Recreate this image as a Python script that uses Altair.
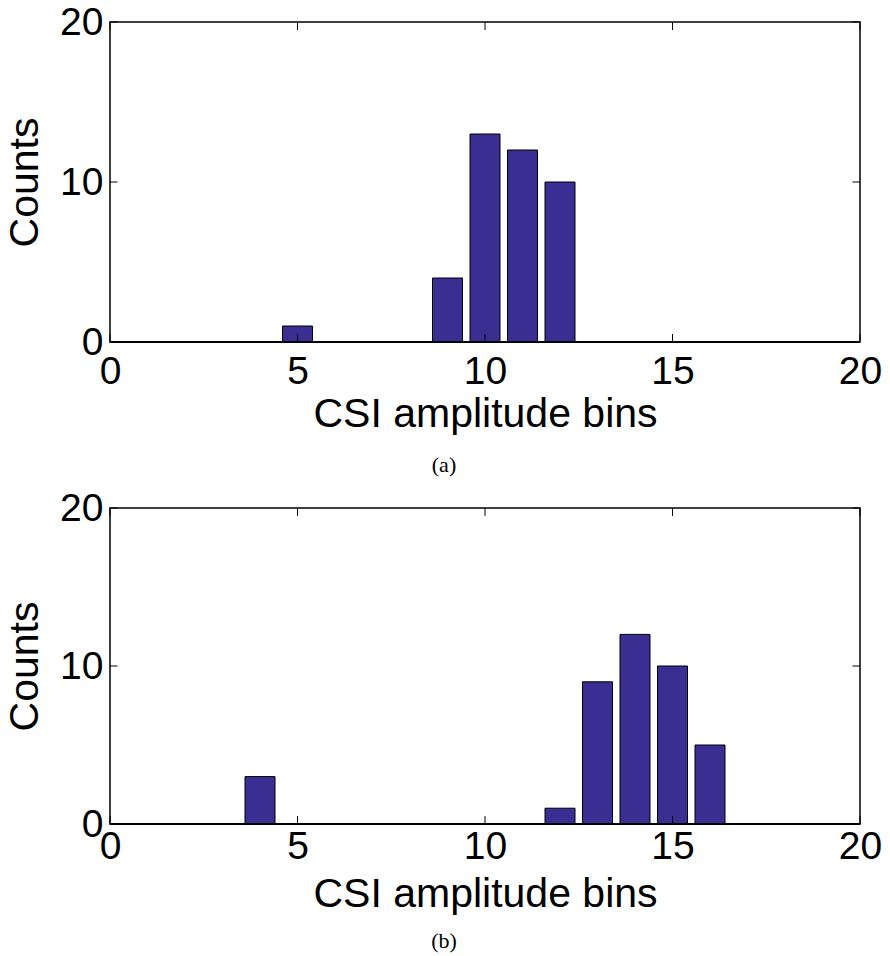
import altair as alt
import pandas as pd

# ---- data ----
bins_a = [5, 9, 10, 11, 12]
counts_a = [1, 4, 13, 12, 10]
bins_b = [4, 12, 13, 14, 15, 16]
counts_b = [3, 1, 9, 12, 10, 5]
x_ticks = [0, 5, 10, 15, 20]
y_ticks = [0, 10, 20]
captions = ["(a)", "(b)"]

BAR_HALF = 0.4
BAR_COLOR = "#3B2E93"
FONT = "Liberation Sans"
X_TICK_LEN = 0.5   # in y units (inward tick on top/bottom)
Y_TICK_LEN = 0.2   # in x units (inward tick on left/right)


def panel(bins, counts, caption, h, lab_pad, title_pad, cap_off):
    df = pd.DataFrame({"bin": bins, "count": counts})
    df["x0"] = df["bin"] - BAR_HALF
    df["x1"] = df["bin"] + BAR_HALF
    df["base"] = 0

    xs = alt.Scale(domain=[0, 20], nice=False, zero=False)
    ys = alt.Scale(domain=[0, 20], nice=False)

    xaxis = alt.Axis(values=x_ticks, title="CSI amplitude bins", tickSize=0, domain=False,
                     grid=False, labelFlush=False, labelOverlap=False, labelFont=FONT,
                     labelFontSize=39, labelColor="black", labelPadding=lab_pad,
                     titleFont=FONT, titleFontSize=41, titleFontWeight="normal",
                     titleColor="black", titlePadding=title_pad, format="d")
    yaxis = alt.Axis(values=y_ticks, title="Counts", tickSize=0, domain=False,
                     grid=False, labelFlush=False, labelOverlap=False, labelFont=FONT,
                     labelFontSize=39, labelColor="black", labelPadding=7,
                     titleFont=FONT, titleFontSize=41, titleFontWeight="normal",
                     titleColor="black", titlePadding=13, format="d")

    bars = alt.Chart(df).mark_bar(color=BAR_COLOR, stroke="black", strokeWidth=1).encode(
        x=alt.X("x0:Q", scale=xs, axis=xaxis),
        x2="x1:Q",
        y=alt.Y("count:Q", scale=ys, axis=yaxis),
        y2="base:Q",
    )

    # inward ticks (MATLAB style) built from the tick value lists
    xt_rows = []
    for t in x_ticks:
        xt_rows.append({"x": t, "y0": 0, "y1": X_TICK_LEN})
        xt_rows.append({"x": t, "y0": 20, "y1": 20 - X_TICK_LEN})
    yt_rows = []
    for t in y_ticks:
        yt_rows.append({"y": t, "x0": 0, "x1": Y_TICK_LEN})
        yt_rows.append({"y": t, "x0": 20, "x1": 20 - Y_TICK_LEN})

    xt = alt.Chart(pd.DataFrame(xt_rows)).mark_rule(color="black", strokeWidth=1).encode(
        x=alt.X("x:Q", scale=xs), y=alt.Y("y0:Q", scale=ys), y2="y1:Q")
    yt = alt.Chart(pd.DataFrame(yt_rows)).mark_rule(color="black", strokeWidth=1).encode(
        y=alt.Y("y:Q", scale=ys), x=alt.X("x0:Q", scale=xs), x2="x1:Q")

    base = alt.Chart(pd.DataFrame({"a": [0], "b": [20], "y": [0]})).mark_rule(
        color="black", strokeWidth=2).encode(
        x=alt.X("a:Q", scale=xs), x2="b:Q", y=alt.Y("y:Q", scale=ys))

    return alt.layer(bars, xt, yt, base).properties(
        width=750, height=h,
        title=alt.TitleParams(caption, orient="bottom", font="Liberation Serif",
                              fontSize=22, fontWeight="normal", color="black",
                              dx=-41, offset=cap_off),
    )


top = panel(bins_a, counts_a, captions[0], 320, 10, 3, 21)
bottom = panel(bins_b, counts_b, captions[1], 316, 3, 8, 17)

chart = alt.vconcat(top, bottom, spacing=166, bounds="flush").properties(
    padding={"left": 3, "top": 2, "right": 0, "bottom": 0},
    background="white",
).configure_view(stroke="black", strokeWidth=1.5)

chart.save("out.html", embed_options={"renderer": "svg", "actions": False})
